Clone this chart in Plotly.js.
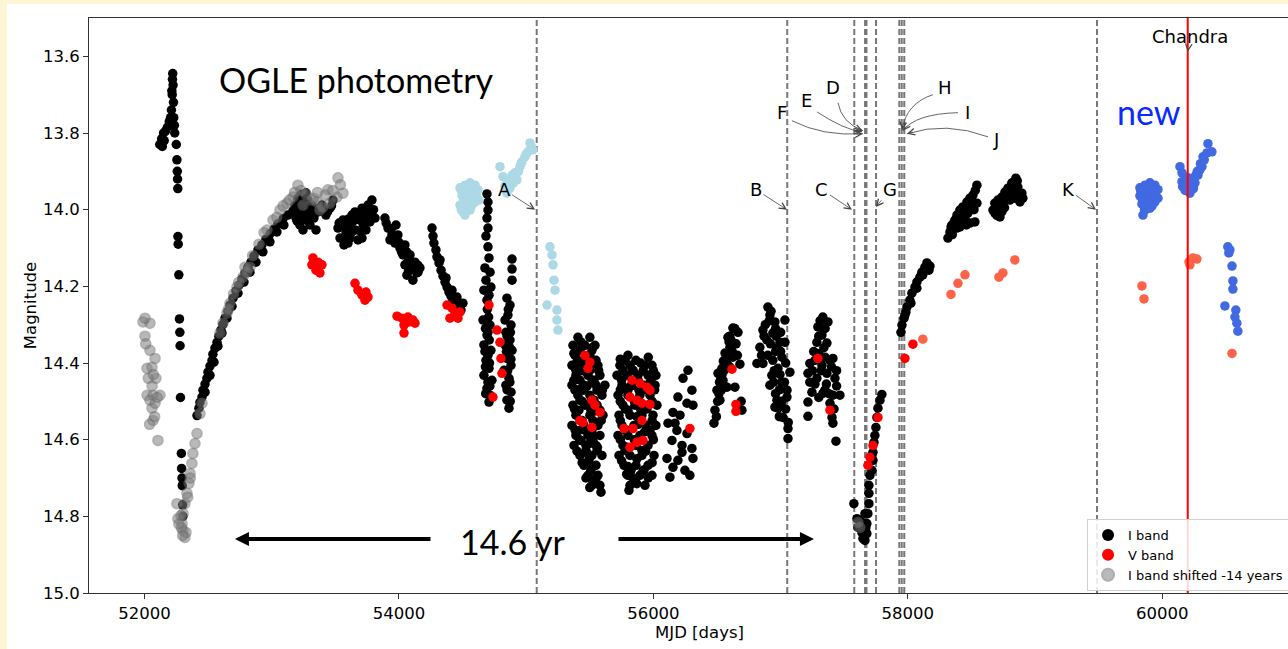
<!DOCTYPE html>
<html>
<head>
<meta charset="utf-8">
<script src="https://cdn.plot.ly/plotly-3.0.1.min.js"></script>
<style>
  html, body { margin:0; padding:0; background:#fdf5d3; overflow:hidden; width:1288px; height:649px; }
  #plot { position:absolute; left:7px; top:4px; width:1303px; height:645px; background:#fff; }
</style>
</head>
<body>
<div id="plot"></div>
<script>
// ---------- OGLE I band (black) ----------
const iMjd = [
  // early spike
  52120,52135,52150,52140,52165,52155,52180,52195,52205,52212,52218,52215,52220,52222,52225,52228,52230,52225,52235,52238,
  52250,52255,52258,52260,52262,52263,52265,52270,52275,52278,52280,52283,52290,52292,52295,52297,52300,52302,
  // rising arc
  52413,52428,52436,52452,52460,52476,52491,52499,52515,52531,52538,52554,52570,52585,52601,52617,52633,52656,52672,52696,
  52719,52743,52766,52790,52813,52837,52860,52892,52923,52955,52986,53018,53049,53089,53128,53167,
  52476,52515,52546,52577,52609,52648,52688,52735,52782,52829,52876,52931,52986,53041,53096,
  // peak cluster
  53183,53206,53222,53238,53254,53269,53285,53301,53316,53332,53348,53222,53191,53364,53395,53426,53458,53482,53285,53246,
  53200,53240,53265,53290,53310,53340,53230,53270,53300,53200,53380,53410,53440,53470,
  // cluster 3
  53521,53537,53560,53584,53600,53615,53631,53655,53678,53655,53694,53710,53733,53757,53772,53788,53812,53741,53710,53568,53615,53788,
  53530,53575,53600,53640,53680,53720,53760,53800,53625,53690,53750,53590,
  // cluster 4
  53890,53914,53945,53969,53992,54008,54032,54047,54071,54087,54102,54126,54150,54110,53977,53930,54047,54165,54063,
  53900,53940,53960,54000,54020,54060,54080,54095,54120,54140,54075,54150,
  // streak
  54260,54268,54275,54291,54299,54315,54331,54346,54362,54378,54393,54409,54425,54441,54464,54488,54503,54323,54370,54417,54456,
  // double column
  54692,54700,54700,54692,54700,54684,54700,54708,54676,54716,54684,54723,54668,54708,54692,54661,54716,54692,54668,54723,
  54684,54708,54668,54731,54692,54716,54708,
  54695,54705,54680,54700,54710,54676,54700,54712,54680,54700,54682,54715,
  54889,54889,54889,54849,54873,54857,54834,54881,54841,54873,54834,54889,54849,54881,54826,54865,54841,54881,54849,54865,
  54860,54876,54850,54870,54845,54880,54855,54872,54850,54875,
  // cluster 7
  55407,55501,55368,55462,55541,55384,55501,55360,55439,55564,55391,55486,55580,55360,55454,55549,55619,55407,55501,55596,
  55368,55462,55557,55391,55501,55604,55360,55454,55564,55391,55486,55580,55376,55470,55549,55423,55517,55596,55454,55549,
  55486,55564,55517,55580,55588,
  55423,55517,55407,55486,55549,55391,55501,55423,55533,55384,55454,55557,55423,55533,55415,55509,55580,55423,55525,55415,
  55517,55431,55525,55470,55557,55493,55509,55533,
  55430,55520,55375,55470,55530,55395,55440,55570,55375,55520,55410,55480,55600,55440,55510,55380,55540,55440,55590,55385,
  55460,55530,55420,55500,55400,55490,55560,55440,55520,55470,55550,55500,
  // cluster 8
  55800,55737,55816,55934,55989,55714,55793,55879,55958,56020,55753,55847,55934,56013,55722,55800,55894,55973,55761,55855,
  55950,56028,55730,55816,55910,55997,55753,55847,55942,56020,55722,55800,55894,55989,55761,55863,55958,55730,55816,55910,
  56005,55769,55863,55958,55800,55894,55989,55816,55934,55808,
  55777,55863,55761,55840,55800,55887,55800,55902,55800,55973,55777,55910,55824,55926,55855,
  55740,55900,55960,55840,55920,56000,55750,55880,55980,55820,55740,55930,56010,55850,55740,55990,55780,55950,55870,55740,
  55990,55880,55780,55930,55850,55740,56000,55790,55940,55870,55750,55990,55800,55920,55840,55960,55870,55790,
  // cluster 9
  56272,56233,56303,56193,56264,56311,56154,56209,56115,56185,56264,56146,56225,56303,56107,56193,56311,56154,56248,56130,
  56287,56225,56170,
  // cluster 10
  56625,56665,56586,56602,56563,56625,56578,56539,56508,56547,56500,56523,56484,56476,56680,56641,56696,56578,
  56610,56570,56530,56555,56515,56650,56600,
  56640,56595,56620,56590,56550,56600,56540,56520,56560,56505,56535,56495,56660,56690,
  // cluster 11
  56900,56916,56955,57034,56861,56939,56892,56995,56837,56971,57034,56814,56861,56939,57010,57073,56979,56931,56916,57010,
  57050,56971,57050,56979,57018,57058,57058,56955,56925,56880,56965,
  56910,56960,57000,56870,56920,57000,56850,56900,56960,57040,56950,56995,56945,57030,56990,56960,57010,57040,56990,57060,
  // cluster 12
  57332,57372,57293,57325,57285,57364,57230,57270,57325,57388,57411,57215,57285,57364,57427,57246,57332,57411,57466,57215,
  57388,57215,57404,57411,57435,57348,
  57310,57350,57300,57340,57260,57300,57350,57250,57320,57400,57440,57270,57360,57300,57440,57380,57230,57420,
  // dip and recovery
  57576,57600,57623,57608,57639,57647,57663,57678,57678,57686,57694,57694,57694,57702,57718,57726,57726,57734,57741,57749,
  57757,57765,57781,57796,57663,57647,57655,57670,
  // rise 2018
  57946,57954,57970,57985,57993,58016,58032,58056,58071,58095,58110,58134,58150,58174,58166,58118,58071,58024,57977,
  // 2018-2019
  58315,58331,58346,58370,58386,58409,58433,58464,58488,58512,58543,58504,58472,58527,58425,58386,58449,58543,58488,
  58340,58360,58400,58420,58450,58480,58500,58520,58460,58410,58530,58350,
  // 2019-2020
  58669,58684,58708,58739,58763,58787,58818,58849,58865,58896,58904,58881,58841,58802,58747,58708,58724,58684,58787,
  58700,58730,58760,58780,58810,58830,58850,58870,58890,58820,58860,58760,58740,58700
];
const iMag = [
  13.830,13.815,13.800,13.835,13.795,13.820,13.785,13.770,13.760,13.740,13.700,13.690,13.660,13.645,13.675,13.720,13.760,13.780,13.780,13.800,
  13.830,13.870,13.900,13.920,13.945,14.070,14.090,14.170,14.285,14.320,14.355,14.490,14.636,14.675,14.700,14.720,14.770,14.800,
  14.537,14.518,14.503,14.489,14.471,14.455,14.440,14.424,14.408,14.393,14.377,14.361,14.346,14.330,14.314,14.299,14.283,14.265,14.249,14.231,
  14.212,14.197,14.181,14.165,14.150,14.137,14.121,14.105,14.092,14.077,14.063,14.051,14.037,14.024,14.014,14.003,
  14.476,14.432,14.398,14.356,14.322,14.283,14.252,14.218,14.189,14.163,14.137,14.110,14.084,14.058,14.040,
  13.988,13.970,14.001,14.027,13.975,13.956,14.006,14.040,13.988,14.022,14.053,14.040,14.022,14.006,13.988,14.014,13.996,13.975,13.975,14.053,
  13.990,14.010,13.985,14.030,14.010,14.000,13.960,14.020,13.990,14.030,13.995,14.000,14.005,13.990,
  14.048,14.074,14.027,14.058,14.087,14.040,14.014,14.053,14.079,14.006,14.027,13.996,14.014,13.988,14.032,14.006,14.022,14.053,14.074,14.092,14.074,13.975,
  14.035,14.045,14.025,14.030,14.010,14.040,14.010,14.000,14.060,14.055,14.030,14.070,
  14.022,14.048,14.066,14.087,14.066,14.100,14.118,14.092,14.137,14.118,14.152,14.137,14.163,14.184,14.040,14.079,14.144,14.152,14.171,
  14.035,14.050,14.075,14.085,14.110,14.110,14.130,14.140,14.150,14.165,14.160,14.145,
  14.048,14.069,14.087,14.105,14.123,14.139,14.158,14.173,14.189,14.202,14.215,14.225,14.236,14.244,14.252,14.262,14.244,14.131,14.178,14.210,14.228,
  13.959,13.980,14.001,14.022,14.048,14.069,14.097,14.126,14.152,14.163,14.184,14.202,14.210,14.223,14.236,14.288,14.301,14.327,14.353,14.367,
  14.393,14.414,14.432,14.445,14.466,14.484,14.502,
  14.260,14.280,14.310,14.320,14.340,14.370,14.380,14.400,14.410,14.450,14.480,14.460,
  14.129,14.155,14.184,14.231,14.249,14.275,14.288,14.301,14.320,14.340,14.353,14.367,14.388,14.406,14.419,14.440,14.458,14.476,14.497,14.518,
  14.260,14.320,14.330,14.360,14.370,14.390,14.420,14.450,14.470,14.500,
  14.333,14.333,14.354,14.354,14.354,14.380,14.380,14.406,14.406,14.406,14.432,14.432,14.432,14.458,14.458,14.458,14.458,14.484,14.484,14.484,
  14.510,14.510,14.510,14.536,14.536,14.536,14.563,14.563,14.563,14.589,14.589,14.589,14.615,14.615,14.615,14.641,14.641,14.641,14.667,14.667,
  14.693,14.693,14.719,14.719,14.737,
  14.367,14.367,14.393,14.393,14.393,14.419,14.419,14.445,14.445,14.471,14.471,14.471,14.497,14.497,14.523,14.523,14.523,14.550,14.550,14.576,
  14.576,14.602,14.602,14.628,14.628,14.654,14.680,14.706,
  14.345,14.360,14.375,14.390,14.400,14.400,14.420,14.420,14.445,14.445,14.470,14.460,14.470,14.500,14.500,14.520,14.525,14.550,14.550,14.575,
  14.575,14.590,14.600,14.610,14.630,14.640,14.620,14.660,14.670,14.700,14.700,14.725,
  14.380,14.406,14.406,14.406,14.406,14.432,14.432,14.432,14.432,14.432,14.458,14.458,14.458,14.458,14.484,14.484,14.484,14.484,14.510,14.510,
  14.510,14.510,14.536,14.536,14.536,14.536,14.563,14.563,14.563,14.563,14.589,14.589,14.589,14.589,14.615,14.615,14.615,14.641,14.641,14.641,
  14.641,14.667,14.667,14.667,14.693,14.693,14.693,14.719,14.719,14.732,
  14.393,14.393,14.419,14.419,14.471,14.471,14.523,14.523,14.576,14.576,14.628,14.628,14.680,14.680,14.706,
  14.390,14.400,14.385,14.420,14.420,14.420,14.445,14.445,14.445,14.460,14.470,14.470,14.470,14.500,14.500,14.500,14.520,14.520,14.540,14.550,
  14.550,14.560,14.575,14.580,14.600,14.600,14.600,14.620,14.630,14.650,14.655,14.660,14.670,14.680,14.700,14.700,14.715,14.690,
  14.419,14.440,14.471,14.489,14.505,14.510,14.529,14.536,14.557,14.576,14.584,14.602,14.615,14.623,14.649,14.654,14.649,14.672,14.680,14.698,
  14.693,14.633,14.557,
  14.309,14.320,14.333,14.359,14.374,14.385,14.401,14.414,14.427,14.445,14.471,14.497,14.523,14.557,14.403,14.463,14.523,14.463,
  14.340,14.390,14.440,14.420,14.480,14.350,14.330,
  14.310,14.345,14.370,14.380,14.395,14.410,14.430,14.450,14.460,14.500,14.470,14.540,14.380,14.500,
  14.254,14.275,14.293,14.288,14.314,14.322,14.340,14.346,14.359,14.361,14.346,14.401,14.401,14.393,14.385,14.424,14.414,14.432,14.458,14.450,
  14.471,14.497,14.489,14.518,14.542,14.571,14.597,14.515,14.265,14.300,14.330,
  14.290,14.310,14.320,14.330,14.350,14.370,14.380,14.380,14.370,14.400,14.420,14.430,14.450,14.450,14.470,14.480,14.500,14.520,14.540,14.555,
  14.280,14.293,14.306,14.327,14.346,14.348,14.401,14.393,14.406,14.393,14.388,14.427,14.440,14.427,14.440,14.476,14.479,14.484,14.484,14.502,
  14.505,14.539,14.542,14.557,14.604,14.471,
  14.290,14.310,14.330,14.360,14.370,14.375,14.385,14.420,14.420,14.410,14.420,14.455,14.455,14.490,14.460,14.480,14.450,14.520,
  14.767,14.806,14.811,14.829,14.842,14.858,14.863,14.845,14.819,14.793,14.767,14.740,14.719,14.693,14.680,14.654,14.633,14.607,14.589,14.568,
  14.542,14.518,14.497,14.482,14.793,14.819,14.850,14.830,
  14.320,14.301,14.283,14.267,14.254,14.236,14.218,14.202,14.189,14.176,14.163,14.150,14.139,14.147,14.158,14.170,14.205,14.244,14.275,
  14.074,14.058,14.040,14.027,14.014,14.001,13.993,13.980,13.970,13.962,13.936,13.988,14.009,14.032,14.035,14.048,14.022,13.983,14.035,
  14.045,14.035,14.030,14.010,14.000,13.990,13.975,14.000,14.040,14.045,13.950,14.065,
  14.001,13.983,13.975,13.967,13.954,13.944,13.931,13.918,13.941,13.957,13.970,13.980,13.970,13.975,13.988,14.001,14.019,14.009,13.957,
  13.990,13.980,13.970,13.970,13.955,13.945,13.960,13.960,13.970,13.930,13.925,13.995,14.005,14.015
];

// ---------- OGLE V band (red) ----------
const vMjd = [53324,53364,53348,53395,53379,53316,
  53655,53678,53710,53741,53733,53757,
  53985,54024,54071,54110,54040,54079,54040,54126,
  54378,54417,54441,54464,54401,54480,
  54708,54771,54794,54802,54810,54739,
  55462,55486,55501,55517,55541,55580,55423,55446,55517,
  55832,55894,55950,55973,55816,55871,55910,55973,55910,55769,55840,55871,55918,55816,
  56287,56618,56649,56649,57293,57388,
  57765,57726,57702,57686,57977,58040];
const vMag = [14.126,14.137,14.158,14.144,14.165,14.144,
  14.192,14.210,14.223,14.215,14.236,14.228,
  14.278,14.283,14.280,14.288,14.301,14.293,14.322,14.296,
  14.249,14.257,14.270,14.283,14.283,14.267,
  14.249,14.314,14.346,14.388,14.427,14.489,
  14.380,14.414,14.398,14.497,14.510,14.529,14.550,14.555,14.568,
  14.445,14.453,14.463,14.471,14.489,14.497,14.505,14.508,14.550,14.571,14.571,14.607,14.602,14.620,
  14.571,14.416,14.508,14.526,14.388,14.523,
  14.542,14.615,14.646,14.667,14.388,14.351];

// ---------- I band shifted -14 years (grey) ----------
const shiftMjd = [51988,52043,52004,52004,52043,52083,52020,52059,52090,52020,52067,52122,52059,52067,52106,52043,52083,
  52010,52030,52060,52100,52080,52040,52070,
  52413,52397,52381,52373,52358,52350,52334,52318,52255,52303,52263,52295,52303,52318,52287,52326,
  52290,52300,52270,52340,52360,
  52436,52452,52593,52617,52648,52672,52727,52774,52829,52805,52963,53010,53065,53120,53167,53206,
  53356,53403,53458,53513,53521,53560,53442,53379,53316,53419,53246,57623,57608,
  52660,52700,52740,52790,52850,52900,52940,53040,53090,53140,53180,53230,53270,53330,53360,53480,53540];
const shiftMag = [14.293,14.296,14.283,14.330,14.367,14.388,14.414,14.411,14.440,14.484,14.484,14.484,14.518,14.550,14.602,14.497,14.505,
  14.350,14.440,14.460,14.490,14.540,14.560,14.430,
  14.584,14.610,14.636,14.662,14.688,14.714,14.740,14.767,14.767,14.793,14.806,14.819,14.837,14.855,14.798,14.842,
  14.830,14.850,14.820,14.750,14.700,
  14.532,14.505,14.322,14.296,14.270,14.244,14.202,14.176,14.150,14.163,14.053,14.027,14.001,13.983,13.967,13.936,
  13.980,13.993,13.983,13.967,13.917,13.957,13.948,14.001,13.975,13.962,13.988,14.829,14.816,
  14.260,14.220,14.190,14.150,14.120,14.090,14.060,14.020,13.990,13.975,13.955,13.950,13.960,13.970,13.955,13.950,13.935];

// ---------- other I band photometry (light blue) ----------
const lbMjd = [54480,54519,54559,54598,54621,54496,54543,54590,54629,54480,54527,54574,54503,54559,54519,
  54490,54510,54530,54550,54570,54600,54510,54540,54570,54600,54500,54540,54490,54610,
  54794,54818,54849,54873,54912,54951,54990,55030,55053,54873,54928,54967,55014,54833,
  54850,54890,54940,54960,55000,55040,54900,
  55187,55203,55211,55219,55227,55164,55242,55242,55250];
const lbMag = [13.943,13.936,13.930,13.936,13.948,13.964,13.959,13.962,13.975,13.988,13.983,13.988,14.006,14.001,14.014,
  13.950,13.945,13.950,13.940,13.945,13.950,13.970,13.975,13.970,13.980,13.990,13.995,14.000,13.960,
  13.888,13.914,13.957,13.943,13.904,13.888,13.862,13.826,13.844,13.922,13.922,13.875,13.849,13.938,
  13.930,13.910,13.900,13.880,13.855,13.835,13.930,
  14.097,14.118,14.144,14.184,14.210,14.249,14.262,14.288,14.314];

// ---------- other V band photometry (tomato) ----------
const tomMjd = [58118,58339,58394,58449,58716,58747,58841,59840,59856,60217,60241,60272,60210,60548];
const tomMag = [14.338,14.221,14.192,14.170,14.176,14.165,14.131,14.199,14.233,14.144,14.126,14.129,14.136,14.375];

// ---------- new photometry (royal blue) ----------
const newMjd = [59824,59864,59903,59942,59966,59824,59879,59926,59966,59840,59887,59942,59864,59903,59848,
  59830,59860,59890,59920,59950,59840,59870,59910,59950,59880,59920,59860,59900,
  60139,60155,60155,60194,60217,60257,60280,60312,60320,60351,60359,60390,60178,60233,60202,60265,60296,
  60160,60180,60200,60220,60240,60255,60275,60300,60330,60170,60210,60245,
  60515,60523,60548,60555,60555,60492,60578,60571,60586,60594,60531];
const newMag = [13.943,13.936,13.930,13.936,13.948,13.964,13.962,13.959,13.970,13.985,13.983,13.980,14.001,13.996,14.014,
  13.950,13.950,13.945,13.945,13.950,13.970,13.975,13.970,13.965,13.995,13.990,14.000,13.990,
  13.888,13.904,13.927,13.943,13.957,13.930,13.910,13.888,13.862,13.852,13.828,13.849,13.922,13.935,13.917,13.910,13.896,
  13.940,13.950,13.950,13.940,13.925,13.915,13.900,13.880,13.870,13.930,13.935,13.945,
  14.097,14.113,14.147,14.186,14.207,14.251,14.262,14.280,14.296,14.317,14.105];

// ---------- events ----------
const eventLabels = ['A','B','C','D','E','F','G','H','I','J','K'];
const eventMjd    = [55083,57052,57579,57664,57668,57675,57750,57933,57952,57972,59487];
const chandraMjd  = 60200;

const FONT = 'DejaVu Sans, sans-serif';
const BIG = 'Lato, sans-serif';
const MS = 9.5;

function pts(x, y, color, name, extra) {
  return Object.assign({
    type:'scatter', mode:'markers', x:x, y:y, name:name,
    marker:{color:color, size:MS, line:{width:0}},
    showlegend:false, hoverinfo:'skip', cliponaxis:true
  }, extra || {});
}

const traces = [
  pts(iMjd, iMag, '#000000', 'I band', {showlegend:true, legendrank:1}),
  pts(shiftMjd, shiftMag, 'gray', 'I band shifted -14 years',
      {showlegend:true, legendrank:3, marker:{color:'rgb(128,128,128)', size:MS, opacity:0.55, line:{color:'rgb(110,110,110)', width:2}}}),
  pts(vMjd, vMag, '#ff0000', 'V band', {showlegend:true, legendrank:2}),
  pts(lbMjd, lbMag, '#add8e6', 'lb'),
  pts(tomMjd, tomMag, '#ff6347', 'tomato'),
  pts(newMjd, newMag, '#4169e1', 'new')
];

const shapes = eventMjd.map(m => ({
  type:'line', xref:'x', yref:'paper', x0:m, x1:m, y0:0, y1:1,
  line:{color:'rgb(120,120,120)', width:2, dash:'6px,3px'}, layer:'below'
}));
shapes.push({type:'line', xref:'x', yref:'paper', x0:chandraMjd, x1:chandraMjd, y0:0, y1:1,
  line:{color:'#ff0000', width:2}, layer:'above'});
// curved label connectors
const curve = (d) => ({type:'path', xref:'x', yref:'y', path:d, line:{color:'#555', width:0.9}, layer:'above'});
shapes.push(curve('M57089,13.768 Q57329,13.809 57647,13.802'));  // F
shapes.push(curve('M57286,13.745 Q57502,13.792 57640,13.797'));  // E
shapes.push(curve('M57451,13.721 Q57478,13.773 57647,13.794'));  // D
shapes.push(curve('M58198,13.700 Q57989,13.722 57954,13.792'));  // H
shapes.push(curve('M58394,13.747 Q58060,13.750 57962,13.794'));  // I
shapes.push(curve('M58630,13.810 Q58304,13.769 57993,13.802'));  // J

const LF = 18;
const lab = (t, x, y, extra) => Object.assign({text:t, x:x, y:y, xref:'x', yref:'y', showarrow:false,
  font:{family:FONT, size:LF, color:'#000'}}, extra || {});
const arr = (t, x, y, ax, ay) => ({text:t, x:x, y:y, xref:'x', yref:'y', ax:ax, ay:ay, showarrow:true,
  arrowhead:5, arrowsize:1.6, arrowwidth:0.8, arrowcolor:'#444', standoff:0,
  font:{family:FONT, size:LF, color:'#000'}});
const head = (x, y, ax, ay) => ({text:'', x:x, y:y, xref:'x', yref:'y', ax:ax, ay:ay, showarrow:true,
  arrowhead:5, arrowsize:1.6, arrowwidth:0.8, arrowcolor:'#444', standoff:0});

const annotations = [
  arr('A', 55070, 14.000, -31, -20),
  arr('B', 57050, 14.000, -31, -20),
  arr('C', 57561, 14.000, -30, -20),
  arr('G', 57749, 13.993, 14, -17),
  arr('K', 59479, 14.000, -28, -20),
  arr('Chandra', 60200, 13.588, 2, -15),
  lab('D', 57412, 13.682), lab('E', 57207, 13.716), lab('F', 57011, 13.747),
  lab('H', 58292, 13.682), lab('I', 58465, 13.747), lab('J', 58693, 13.818),
  head(57647, 13.794, -7.5, -2.8), head(57640, 13.797, -8, -0.9), head(57647, 13.802, -8, 0.5),
  head(57954, 13.792, 1.3, -7.9), head(57962, 13.794, 4.7, -6.4), head(57993, 13.802, 7.7, -2),
  lab('OGLE photometry', 53670, 13.661, {font:{family:BIG, size:34, color:'#000'}}),
  lab('new', 59895, 13.745, {font:{family:BIG, size:34, color:'#0a2aff'}}),
  lab('14.6 yr', 54896, 14.866, {font:{family:BIG, size:34, color:'#000'}}),
  {text:'', x:52711, y:14.859, ax:54260, ay:14.859, xref:'x', yref:'y', axref:'x', ayref:'y',
   showarrow:true, arrowhead:2, arrowsize:0.7, arrowwidth:4, arrowcolor:'#000', standoff:0},
  {text:'', x:57262, y:14.859, ax:55714, ay:14.859, xref:'x', yref:'y', axref:'x', ayref:'y',
   showarrow:true, arrowhead:2, arrowsize:0.7, arrowwidth:4, arrowcolor:'#000', standoff:0}
];

const layout = {
  width:1303, height:645,
  margin:{l:82, r:0, t:14, b:56, pad:0},
  paper_bgcolor:'#ffffff', plot_bgcolor:'#ffffff',
  font:{family:FONT, size:16.5, color:'#000'},
  xaxis:{range:[51564, 61161], tickvals:[52000,54000,56000,58000,60000], ticktext:['52000','54000','56000','58000','60000'],
    ticks:'outside', ticklen:5, tickwidth:1, tickcolor:'#333', showline:true, linecolor:'#333', linewidth:1, mirror:true,
    showgrid:false, zeroline:false, tickfont:{family:FONT, size:16.5},
    title:{text:'MJD [days]', font:{family:FONT, size:16.5}, standoff:1}},
  yaxis:{range:[15.0, 13.5], tickvals:[13.6,13.8,14.0,14.2,14.4,14.6,14.8,15.0],
    ticktext:['13.6','13.8','14.0','14.2','14.4','14.6','14.8','15.0'],
    ticks:'outside', ticklen:5, tickwidth:1, tickcolor:'#333', showline:true, linecolor:'#333', linewidth:1, mirror:true,
    showgrid:false, zeroline:false, tickfont:{family:FONT, size:16.5},
    title:{text:'Magnitude', font:{family:FONT, size:16.5}, standoff:2}},
  showlegend:true,
  legend:{x:0.8174, y:0.1287, xanchor:'left', yanchor:'top', bgcolor:'rgba(255,255,255,0.85)',
    bordercolor:'#d0d0d0', borderwidth:1, font:{family:FONT, size:13}, itemsizing:'constant', tracegroupgap:0,
    traceorder:'normal'},
  shapes:shapes, annotations:annotations
};

Plotly.newPlot('plot', traces, layout, {displayModeBar:false, staticPlot:true});
</script>
</body>
</html>
